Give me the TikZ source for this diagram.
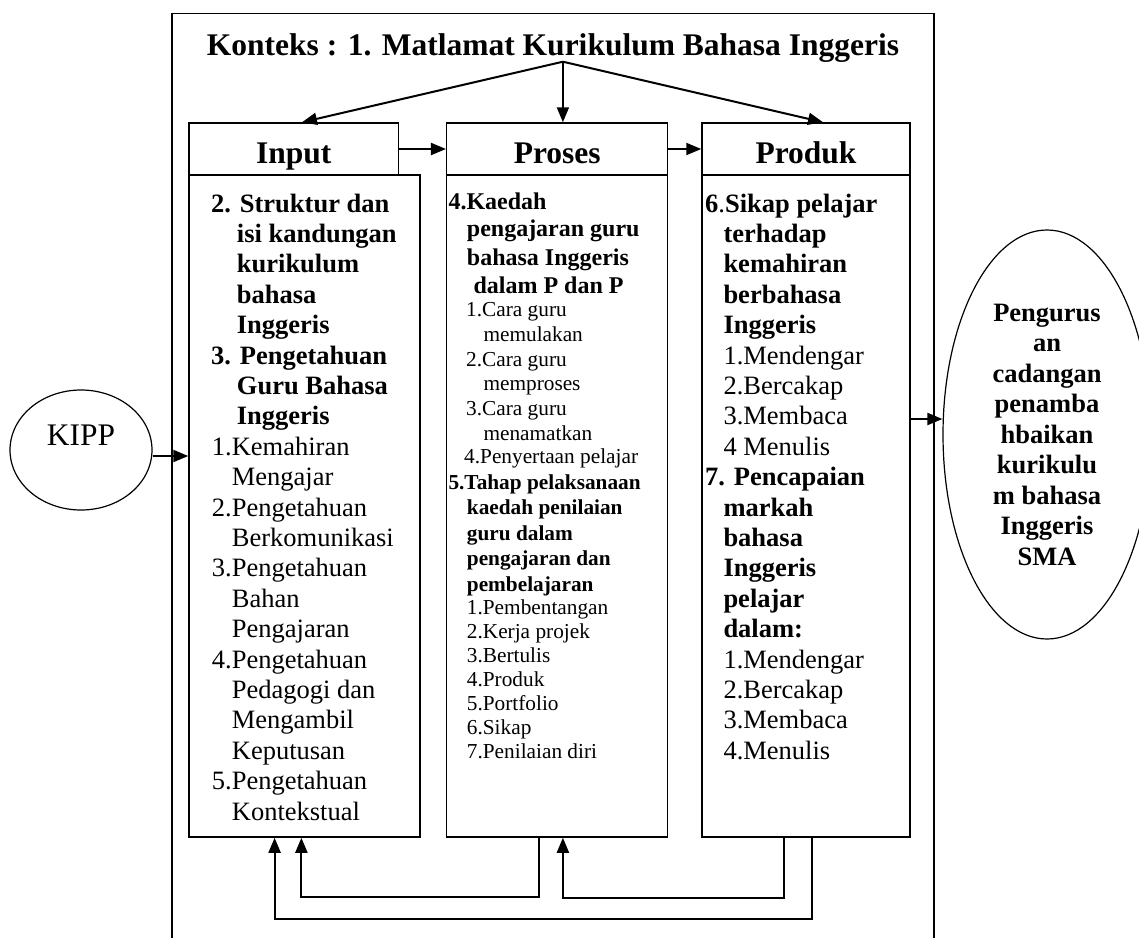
\documentclass[tikz,border=0pt]{standalone}
\usepackage{fontspec}
\setmainfont{Liberation Serif}
\usetikzlibrary{arrows.meta,positioning,shapes.geometric,calc}
\tikzset{
  box/.style={draw, line width=1.5pt, inner sep=0pt},
  hd/.style={box, minimum height=52pt, text height=29pt, text depth=0pt, font=\bfseries\fontsize{31.5}{32}\selectfont},
  arr/.style={line width=2pt, -{Triangle[length=15pt,width=12pt]}},
  ln/.style={anchor=base west, inner sep=0pt},
  oval/.style={ellipse, draw, line width=1.2pt, inner sep=0pt}
}
\newcommand{\bigbf}{\bfseries\fontsize{26.5}{30.5}\selectfont}
\newcommand{\bigrm}{\fontsize{26.5}{30.5}\selectfont}
\newcommand{\midbf}{\bfseries\fontsize{24}{28}\selectfont}
\newcommand{\smbf}{\bfseries\fontsize{21.3}{25}\selectfont}
\newcommand{\smrm}{\fontsize{21.3}{25}\selectfont}

\begin{document}
\begin{tikzpicture}[x=1pt,y=-1pt]
        \useasboundingbox (0,0) rectangle (1139,937);
        \draw[line width=1.5pt] (172,940) |- (934,13.5) -- (934,940);

        \node[anchor=base, font=\bfseries\fontsize{31.5}{32}\selectfont] (konteks) at (553,55) {Konteks : 1. Matlamat Kurikulum Bahasa Inggeris};
        \coordinate (apex) at (562.9,61.7);

        \node[hd, minimum width=209.6pt] (inp) at (293.8,149) {Input};
        \node[hd, minimum width=221pt] (pros) at (557.2,149) {Proses};
        \node[hd, minimum width=208pt] (prod) at (806,149) {Produk};
        \node[box, minimum width=231pt, minimum height=662pt] (inbody) at (304.5,506) {};
        \node[box, minimum width=221pt, minimum height=662pt] (prosbody) at (557.2,506) {};
        \node[box, minimum width=208pt, minimum height=662pt] (prodbody) at (806,506) {};

        \node[oval, minimum width=142pt, minimum height=120pt, text height=21pt, text depth=30pt, font=\fontsize{31.4}{32}\selectfont] (kipp) at (81,450) {KIPP};
        \node[oval, minimum width=208pt, minimum height=409pt, align=center, font=\bigbf] (saran) at (1047,434.5) {Pengurus\\an\\cadangan\\penamba\\hbaikan\\kurikulu\\m bahasa\\Inggeris\\SMA};

        % input
        \foreach \dx/\t [count=\i from 0] in {0/2. Struktur dan, 25.7/isi kandungan, 25.7/kurikulum, 25.7/bahasa, 25.7/Inggeris, 0/3. Pengetahuan, 25.7/Guru Bahasa, 25.7/Inggeris}
          \node[ln, font=\bigbf] (inb\i) at (211+\dx, 212+30.4*\i) {\t};
        \foreach \dx/\t [count=\i from 8] in {0/1.Kemahiran, 20/Mengajar, 0/2.Pengetahuan, 20/Berkomunikasi, 0/3.Pengetahuan, 20/Bahan, 20/Pengajaran, 0/4.Pengetahuan, 20/Pedagogi dan, 20/Mengambil, 20/Keputusan, 0/5.Pengetahuan, 20/Kontekstual}
          \node[ln, font=\bigrm] (inr\i) at (211.7+\dx, 212+30.4*\i) {\t};

        % proses
        \foreach \x/\y/\t [count=\i] in {448.3/209/4.Kaedah, 466.7/236.7/pengajaran guru, 466.7/265/bahasa Inggeris, 473.3/293.3/dalam P dan P}
          \node[ln, font=\midbf] (prosa\i) at (\x,\y) {\t};
        \foreach \x/\y/\t [count=\i] in {466/316.7/1.Cara guru, 483.3/341.7/memulakan, 466/366.7/2.Cara guru, 483.3/390/memproses, 466/415/3.Cara guru, 483.3/440/menamatkan, 464/463/4.Penyertaan pelajar}
          \node[ln, font=\smrm] (prosb\i) at (\x,\y) {\t};
        \foreach \x/\y/\t [count=\i] in {448.3/489/5.Tahap pelaksanaan, 466.7/514.5/kaedah penilaian, 466.7/540/guru dalam, 466.7/565.5/pengajaran dan, 466.7/591/pembelajaran}
          \node[ln, font=\smbf] (prosc\i) at (\x,\y) {\t};
        \foreach \t [count=\i from 0] in {1.Pembentangan, 2.Kerja projek, 3.Bertulis, 4.Produk, 5.Portfolio, 6.Sikap, 7.Penilaian diri}
          \node[ln, font=\smrm] (prosd\i) at (466.7, 614+24*\i) {\t};

        % produk
        \foreach \dx/\t [count=\i from 0] in {0/{6{\mdseries.}Sikap pelajar}, 18.3/terhadap, 18.3/kemahiran, 18.3/berbahasa, 18.3/Inggeris}
          \node[ln, font=\bigbf] (prodb\i) at (705+\dx, 212+30.4*\i) {\t};
        \foreach \t [count=\i from 5] in {1.Mendengar, 2.Bercakap, 3.Membaca, 4 Menulis}
          \node[ln, font=\bigrm] (prodr\i) at (723.3, 212+30.4*\i) {\t};
        \foreach \dx/\t [count=\i from 9] in {0/7. Pencapaian, 18.3/markah, 18.3/bahasa, 18.3/Inggeris, 18.3/pelajar, 18.3/dalam:}
          \node[ln, font=\bigbf] (prodb\i) at (705+\dx, 212+30.4*\i) {\t};
        \foreach \t [count=\i from 15] in {1.Mendengar, 2.Bercakap, 3.Membaca, 4.Menulis}
          \node[ln, font=\bigrm] (prodr\i) at (723.3, 212+30.4*\i) {\t};

        \draw[arr] (apex) -- ([xshift=8.2pt]inp.north);
        \draw[arr] (apex) -- (apex |- pros.north);
        \draw[arr] (apex) -- ([xshift=17pt]prod.north);
        \draw[arr] (inp.east) -- (pros.west);
        \draw[arr] (pros.east) -- (prod.west);

        \coordinate (kippout) at ([yshift=-6pt]kipp.east);
        \draw[arr] (kippout) -- (kippout -| inbody.west);
        \coordinate (saranin) at ([yshift=15.5pt]saran.west);
        \draw[arr] (saranin -| prodbody.east) -- (saranin);

        \draw[arr] ([xshift=-18.6pt]prosbody.south) -- ++(0,59.7) -| ([xshift=-3.1pt]inbody.south);
        \draw[arr] ([xshift=-21.7pt]prodbody.south) -- ++(0,60.7) -| ([xshift=5.7pt]prosbody.south);
        \draw[arr] ([xshift=6.3pt]prodbody.south) -- ++(0,81.3) -| ([xshift=-29.9pt]inbody.south);
\end{tikzpicture}
\end{document}
